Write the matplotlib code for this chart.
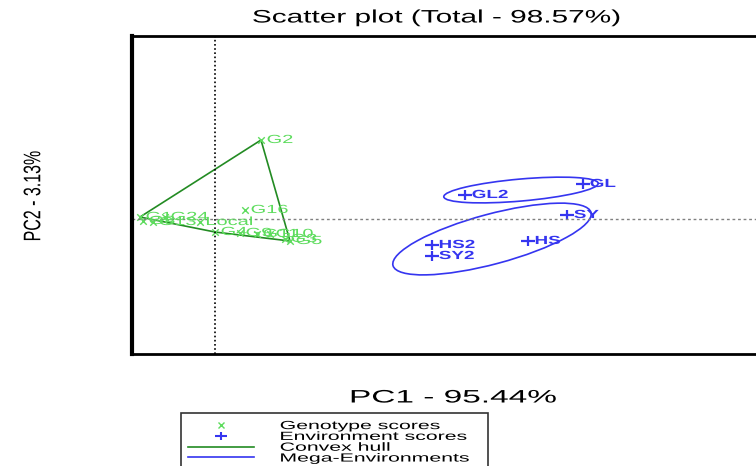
import matplotlib
matplotlib.use("Agg")
import matplotlib.pyplot as plt
from matplotlib.patches import Ellipse, Polygon
from matplotlib.lines import Line2D
from matplotlib.path import Path
from matplotlib.transforms import Affine2D
from matplotlib.patheffects import AbstractPathEffect

plt.rcParams['font.family'] = ['Liberation Sans', 'DejaVu Sans']

# genotype scores (PC1, PC2)
gen_names = ["G1", "G8", "G13", "G24", "Local", "G16", "G2", "G4", "G9", "G11", "G10", "G3", "G5"]
gen_pc1 = [-0.75, -0.72, -0.62, -0.50, -0.15, 0.30, 0.46, 0.00, 0.25, 0.42, 0.55, 0.70, 0.75]
gen_pc2 = [0.02, -0.02, -0.03, 0.02, -0.03, 0.09, 0.79, -0.13, -0.14, -0.15, -0.15, -0.20, -0.22]

# environment scores (PC1, PC2)
env_names = ["GL2", "GL", "SY", "HS", "HS2", "SY2"]
env_pc1 = [2.50, 3.68, 3.52, 3.13, 2.17, 2.17]
env_pc2 = [0.24, 0.35, 0.04, -0.22, -0.26, -0.37]

# convex hull vertices (genotype indices)
hull_idx = [0, 6, 12, 7]

# mega-environment ellipses: centre x, centre y, width, height, angle
me_cx = [3.06, 2.77]
me_cy = [0.29, -0.20]
me_w = [1.55, 2.05]
me_h = [0.22, 0.50]
me_ang = [5, 15]

GREEN = '#5ddc5d'
DKGREEN = '#238b23'
BLUE = '#3535f0'


class StretchX(AbstractPathEffect):
    # the reference picture is squeezed wider than it is tall, text included
    def __init__(self, sx, anchor='center'):
        super().__init__()
        self.sx = sx
        self.anchor = anchor

    def draw_path(self, renderer, gc, tpath, affine, rgbFace=None):
        ext = tpath.get_extents(affine)
        x0 = ext.x0 if self.anchor == 'left' else (ext.x0 + ext.x1) / 2
        t = affine + Affine2D().translate(-x0, 0).scale(self.sx, 1).translate(x0, 0)
        renderer.draw_path(gc, tpath, t, rgbFace)


wide_plus = Path([(-1.4, 0), (1.4, 0), (0, -1), (0, 1)],
                 [Path.MOVETO, Path.LINETO, Path.MOVETO, Path.LINETO])

fig = plt.figure(figsize=(7.56, 4.66), dpi=100)
ax = fig.add_axes([0.1746, 0.2403, 0.8836, 0.6824])
ax.set_xlim(-0.83, 5.85)
ax.set_ylim(-1.35, 1.83)
ax.set_xticks([])
ax.set_yticks([])
for s in ax.spines.values():
    s.set_linewidth(2)
ax.spines['left'].set_linewidth(3)

ax.axvline(0, color='black', ls=(0, (1, 1.5)), lw=1.2)
ax.axhline(0, color='grey', ls=(0, (2, 2)), lw=1)

hull = Polygon([(gen_pc1[i], gen_pc2[i]) for i in hull_idx], closed=True,
               fill=False, edgecolor=DKGREEN, lw=1.2)
ax.add_patch(hull)

ax.scatter(gen_pc1, gen_pc2, marker='x', color=GREEN, s=22, lw=1)
for n, x, y in zip(gen_names, gen_pc1, gen_pc2):
    t = ax.text(x + 0.06, y, n, color=GREEN, fontsize=8.5, va='center', ha='left')
    t.set_path_effects([StretchX(1.7, 'left')])

ax.scatter(env_pc1, env_pc2, marker=wide_plus, color=BLUE, s=90, lw=1.6)
for n, x, y in zip(env_names, env_pc1, env_pc2):
    t = ax.text(x + 0.07, y, n, color=BLUE, fontsize=8.5, va='center', ha='left',
                fontweight='bold')
    t.set_path_effects([StretchX(1.6, 'left')])

for cx, cy, w, h, a in zip(me_cx, me_cy, me_w, me_h, me_ang):
    ax.add_patch(Ellipse((cx, cy), w, h, angle=a, fill=False, edgecolor=BLUE, lw=1.2))

title = fig.text(436 / 756, 1 - 18 / 466, "Scatter plot (Total - 98.57%)", fontsize=13,
                 ha='center', va='center')
title.set_path_effects([StretchX(1.65)])
xlab = fig.text(453 / 756, 1 - 398 / 466, "PC1 - 95.44%", fontsize=13, ha='center',
                va='center')
xlab.set_path_effects([StretchX(1.85)])
ylab = fig.text(33 / 756, 1 - 196 / 466, "PC2 - 3.13%", fontsize=11.5, ha='center',
                va='center', rotation=90)
ylab.set_path_effects([StretchX(1.5)])

handles = [
    Line2D([], [], ls='none', marker='x', color=GREEN, markersize=5),
    Line2D([], [], ls='none', marker=wide_plus, color=BLUE, markersize=9, mew=1.5),
    Line2D([], [], color=DKGREEN, lw=1.2),
    Line2D([], [], color=BLUE, lw=1.2),
]
labels = ["Genotype scores", "Environment scores", "Convex hull", "Mega-Environments"]
leg = fig.legend(handles, labels, loc='upper left', mode='expand',
                 bbox_to_anchor=(181 / 756, 0, 307 / 756, 1 - 413 / 466), fontsize=8.5,
                 frameon=True, fancybox=False, edgecolor='black', handlelength=5.6,
                 labelspacing=-0.1, borderpad=0.6, handletextpad=2.2, borderaxespad=0)
leg.get_frame().set_linewidth(1.2)
for t in leg.get_texts():
    t.set_path_effects([StretchX(1.8, 'left')])

fig.savefig("out.png", dpi=100)
